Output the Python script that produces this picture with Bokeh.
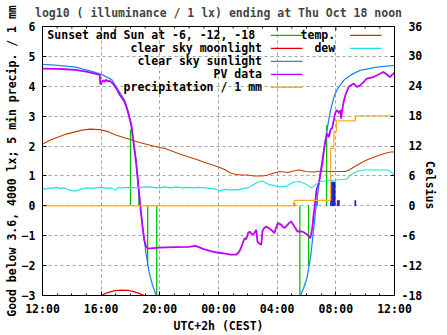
import math
from bokeh.plotting import figure
from bokeh.models import Range1d, LinearAxis, FixedTicker, Label
from bokeh.embed import file_html
from bokeh.resources import INLINE

# ---------------- data (x in hours after Wed 12:00 CEST) ----------------
x_ticks = [0, 4, 8, 12, 16, 20, 24]
x_minor_ticks = list(range(0, 25))
x_tick_labels = ["12:00", "16:00", "20:00", "00:00", "04:00", "08:00", "12:00"]
y_ticks = [-3, -2, -1, 0, 1, 2, 3, 4, 5, 6]
celsius_ticks = [-18, -12, -6, 0, 6, 12, 18, 24, 30, 36]

title_text = "log10 ( illuminance / 1 lx) ending at Thu Oct 18 noon"
x_label = "UTC+2h (CEST)"
y_label = "Good below 3.6, 4000 lx; 5 min precip. / 1 mm"
y2_label = "Celsius"

# PV data: log10(illuminance / lx)
pv_h = [0, 0.88, 1.55, 2.22, 2.9, 3.37, 3.78, 3.91, 3.94, 4.01, 4.11, 4.25, 4.31, 4.45, 4.58,
        4.72, 4.85, 5.04, 5.26, 5.6, 5.82, 6.05, 6.2, 6.38, 6.49, 6.61, 6.72, 6.83, 6.94, 7.06,
        7.17, 7.96, 8.97, 9.98, 10.43, 10.65, 10.99, 11.53, 12.0, 12.47, 12.81, 13.21, 13.35,
        13.45, 13.57, 13.69, 13.8, 13.89, 14.02, 14.13, 14.29, 14.43, 14.58, 14.66, 14.74, 14.92,
        14.99, 15.1, 15.26, 15.44, 15.59, 15.82, 15.91, 16.05, 16.27, 16.38, 16.5, 16.72, 16.94,
        17.06, 17.17, 17.39, 17.53, 17.73, 17.86, 18.07, 18.25, 18.3, 18.41, 18.47, 18.56, 18.63,
        18.69, 18.85, 18.96, 19.08, 19.19, 19.3, 19.42, 19.53, 19.64, 19.75, 19.87, 19.98, 20.09,
        20.2, 20.32, 20.36, 20.43, 20.54, 20.65, 20.88, 21.22, 21.44, 21.66, 21.89, 22.11, 22.57,
        23.01, 23.24, 23.46, 23.69, 23.92, 24.0]
pv_log = [4.59, 4.58, 4.57, 4.55, 4.5, 4.45, 4.4, 4.38, 4.06, 4.1, 4.2, 4.15, 4.22, 4.17, 4.18,
          4.12, 4.06, 3.92, 3.72, 3.48, 3.15, 2.7, 2.15, 1.45, 0.9, 0.3, -0.27, -0.75, -1.15, -1.35,
          -1.43, -1.40, -1.38, -1.37, -1.34, -1.38, -1.45, -1.52, -1.57, -1.6, -1.63, -1.63, -1.57,
          -1.5, -1.36, -1.2, -1.08, -1.12, -0.91, -0.86, -0.97, -0.92, -0.8, -1.2, -1.24, -1.3,
          -0.86, -0.75, -0.69, -0.75, -0.8, -0.91, -0.75, -0.58, -0.63, -0.7, -0.74, -0.63, -0.52,
          -0.6, -0.69, -0.86, -0.85, -0.86, -0.9, -0.97, -1.08, -1.0, -0.69, -0.35, -0.02, 0.3,
          0.55, 0.76, 1.1, 1.42, 1.87, 2.2, 2.42, 2.3, 2.55, 2.6, 2.9, 3.14, 3.2,
          3.1, 3.2, 2.92, 3.2, 3.5, 3.7, 3.98, 4.09, 3.98, 4.03, 4.14, 4.26, 4.31,
          4.42, 4.48, 4.4, 4.31, 4.42, 4.45]

# clear sky sunlight model
sun_h = [0, 0.88, 2.25, 3.37, 4.05, 4.72, 5.04, 5.33, 5.6, 5.82, 6.05, 6.2, 6.38, 6.61, 6.83,
         7.06, 7.28, 7.5, 7.73, 7.96, 8.3, 17.26, 17.62, 17.85, 18.03, 18.19, 18.3, 18.41, 18.53,
         18.63, 18.74, 18.97, 19.19, 19.42, 19.64, 19.87, 20.09, 20.54, 21.1, 21.66, 22.79, 24.0]
sun_log = [4.73, 4.71, 4.64, 4.5, 4.39, 4.22, 3.97, 3.75, 3.53, 3.2, 2.76, 2.2, 1.53, 0.3, -0.7,
           -1.6, -2.25, -2.65, -2.97, -3.3, -4.0, -4.0, -2.97, -2.69, -2.41, -1.97, -1.63, -1.13,
           -0.58, -0.1, 0.3, 1.2, 1.9, 2.6, 3.2, 3.64, 3.9, 4.2, 4.4, 4.53, 4.64, 4.7]

# clear sky moonlight model
moon_h = [3.7, 3.91, 4.13, 4.45, 4.92, 5.39, 5.82, 6.16, 6.49, 6.94, 7.2]
moon_log = [-3.5, -3.1, -2.97, -2.9, -2.84, -2.82, -2.83, -2.86, -2.91, -3.0, -3.3]

# sunset / sun at -6, -12, -18 deg (evening) and -18, -12, -6, sunrise (morning)
sun_event_h = [6.0, 6.57, 7.17, 7.79, 17.55, 18.14, 18.74, 19.37]
sun_event_log = [2.55, 0.42, -2.0, -3.5, -3.5, -2.0, 0.42, 2.7]
sun_event_base = [0, 0, 0, 0, 0, 0, 0, 0]

# accumulated precipitation (mm)
precip_h = [0, 17.17, 19.64, 19.87, 20.04, 21.33, 24.0]
precip_mm = [0, 0.18, 1.92, 2.48, 2.84, 3.01, 3.01]

# 5 minute precipitation (mm)
bar_h = [17.17, 19.67, 19.75, 19.83, 19.92, 20.13, 20.21, 21.33]
bar_mm = [0.1, 0.8, 0.8, 0.8, 0.8, 0.18, 0.18, 0.18]

# temperature and dew point (Celsius)
temp_h = [0, 0.54, 1.08, 1.62, 2.16, 2.70, 3.24, 3.91, 4.45, 4.99, 5.53, 6.07, 6.61, 7.28, 7.82,
          8.36, 8.90, 9.44, 9.98, 10.52, 11.06, 11.60, 12.0, 12.41, 12.81, 13.08, 13.48, 14.02,
          14.43, 14.97, 15.37, 15.78, 16.18, 16.72, 17.12, 17.53, 17.93, 18.47, 19.01, 19.55,
          20.09, 20.63, 20.9, 21.3, 21.71, 22.11, 22.52, 22.92, 23.33, 23.73, 24.0]
temp_c = [12.4, 13.2, 13.8, 14.4, 14.8, 15.2, 15.4, 15.3, 14.9, 14.2, 13.7, 13.2, 12.7, 12.2, 11.8,
          11.5, 10.9, 10.3, 9.8, 9.3, 8.7, 8.2, 7.8, 7.3, 6.6, 6.4, 6.2, 6.2, 6.0, 6.0, 6.2, 6.6,
          6.9, 6.7, 7.0, 7.2, 6.9, 6.8, 7.0, 6.9, 6.9, 6.9, 7.2, 7.9, 8.6, 9.2, 9.7, 10.1, 10.5,
          10.8, 10.8]
dew_h = [0, 0.2, 0.4, 0.67, 0.94, 1.21, 1.48, 1.75, 2.02, 2.29, 2.56, 2.83, 3.1, 3.37, 3.64, 3.91,
         4.18, 4.45, 4.72, 4.99, 5.12, 5.53, 5.93, 6.34, 6.74, 7.15, 7.55, 7.96, 8.36, 8.76, 9.17,
         9.57, 9.98, 10.38, 10.65, 11.06, 11.46, 11.87, 12.13, 12.41, 12.67, 13.01, 13.35, 13.69,
         14.02, 14.36, 14.7, 14.97, 15.24, 15.5, 15.78, 16.18, 16.59, 17.06, 17.53, 17.93, 18.34,
         18.61, 18.88, 19.42, 20.43, 20.76, 21.04, 21.44, 21.91, 23.6, 23.87, 24.0]
dew_c = [3.6, 3.3, 3.6, 3.5, 3.7, 3.5, 3.6, 3.3, 3.0, 3.0, 3.3, 3.5, 3.6, 3.5, 3.6, 3.7, 3.6, 3.5,
         3.6, 3.1, 3.6, 3.6, 3.7, 3.6, 3.7, 3.8, 3.7, 3.6, 3.8, 3.6, 3.8, 3.6, 3.7, 3.6, 3.7, 3.6,
         3.5, 3.3, 3.0, 3.3, 3.2, 3.2, 3.2, 3.5, 3.6, 4.2, 4.8, 5.0, 4.6, 4.2, 4.1, 3.8, 3.9, 4.7,
         4.9, 4.4, 3.6, 4.2, 4.8, 5.1, 5.3, 5.4, 6.3, 6.9, 7.2, 7.2, 6.5, 6.0]

legend_col1 = ["Sunset and Sun at -6, -12, -18\u00a0", "clear sky moonlight",
               "clear sky sunlight", "PV data", "precipitation / 1 mm"]
legend_col2 = ["temp.", "dew"]

# ---------------- style ----------------
FONT = "DejaVu Sans Mono"
FS = "11.5px"
C_GREEN = "#00c000"
C_RED = "#e00000"
C_BLUE = "#1a88ff"
C_PURPLE = "#c000ff"
C_ORANGE = "#ffb020"
C_BROWN = "#c04000"
C_CYAN = "#20e0e0"
C_NAVY = "#2020c0"
GRID = "#a0a0a0"

# frame in pixels: 42..398 x 26..296
FL, FR, FT, FB = 42, 398, 26, 296

p = figure(width=447, height=335, x_range=Range1d(0, 24), y_range=Range1d(-3, 6),
           output_backend="svg", toolbar_location=None,
           min_border_left=FL, min_border_right=447 - FR,
           min_border_top=FT, min_border_bottom=335 - FB)
p.extra_y_ranges = {"celsius": Range1d(-18, 36)}
p.background_fill_color = "white"
p.border_fill_color = "white"
p.outline_line_color = "black"
p.outline_line_width = 1

p.title.text = title_text
p.title.align = "center"
p.title.vertical_align = "top"
p.title.text_font = FONT
p.title.text_font_size = FS
p.title.text_font_style = "bold"
p.title.standoff = 9


def hx(px):
    return (px - FL) / (FR - FL) * 24


def vy(py):
    return 6 - (py - FT) / (FB - FT) * 9


def style_axis(ax, label):
    ax.axis_line_color = "black"
    ax.major_tick_line_color = "black"
    ax.major_tick_out = 0
    ax.major_tick_in = 4
    ax.minor_tick_out = 0
    ax.major_label_text_font = FONT
    ax.major_label_text_font_size = FS
    ax.major_label_text_font_style = "bold"
    ax.major_label_text_color = "black"
    ax.axis_label = label
    ax.axis_label_text_font = FONT
    ax.axis_label_text_font_size = FS
    ax.axis_label_text_font_style = "bold"
    ax.axis_label_text_color = "black"


xa = p.xaxis[0]
style_axis(xa, x_label)
xa.ticker = FixedTicker(ticks=x_ticks, minor_ticks=x_minor_ticks)
xa.minor_tick_in = 2
xa.minor_tick_line_color = "black"
xa.major_label_overrides = {t: s for t, s in zip(x_ticks, x_tick_labels)}
xa.major_label_standoff = 6
xa.axis_label_standoff = 0

ya = p.yaxis[0]
style_axis(ya, y_label)
ya.ticker = FixedTicker(ticks=y_ticks)
ya.minor_tick_line_color = None
ya.major_label_standoff = 7
ya.axis_label_standoff = 0

ra = LinearAxis(y_range_name="celsius", ticker=FixedTicker(ticks=celsius_ticks))
style_axis(ra, y2_label)
ra.minor_tick_line_color = None
ra.major_label_overrides = {t: (str(t) if t < 0 else "\u00a0" + str(t)) for t in celsius_ticks}
ra.major_label_standoff = 7
ra.axis_label_standoff = 5
if "axis_label_orientation" in ra.properties():
    try:
        ra.axis_label_orientation = -math.pi / 2
    except Exception:
        pass
p.add_layout(ra, "right")

p.xgrid.ticker = FixedTicker(ticks=x_ticks)
p.ygrid.ticker = FixedTicker(ticks=y_ticks)
for g in (p.xgrid[0], p.ygrid[0]):
    g.grid_line_color = GRID
    g.grid_line_dash = "3 3"
    g.grid_line_width = 1

# mirrored tick marks on the top border
top_len = [(4 if h in x_ticks else 2) / (FB - FT) * 9 for h in x_minor_ticks]
p.segment(x0=x_minor_ticks, y0=[6] * len(x_minor_ticks), x1=x_minor_ticks,
          y1=[6 - d for d in top_len], line_color="black", line_width=1)

# ---------------- series ----------------
p.vbar(x=bar_h, top=bar_mm, bottom=0, width=1 / 12, fill_color=C_NAVY, line_color=C_NAVY, line_width=0.5)
p.segment(x0=sun_event_h, y0=sun_event_base, x1=sun_event_h, y1=sun_event_log,
          line_color=C_GREEN, line_width=1.3)
p.line(moon_h, moon_log, line_color=C_RED, line_width=1.3)
p.line(sun_h, sun_log, line_color=C_BLUE, line_width=1.3)
p.line(pv_h, pv_log, line_color=C_PURPLE, line_width=1.8)
p.step(precip_h, precip_mm, mode="after", line_color=C_ORANGE, line_width=1.3)
p.line(temp_h, temp_c, y_range_name="celsius", line_color=C_BROWN, line_width=1.1)
p.line(dew_h, dew_c, y_range_name="celsius", line_color=C_CYAN, line_width=1.1)

# ---------------- legend (gnuplot style: text, then sample) ----------------
col1_colors = [C_GREEN, C_RED, C_BLUE, C_PURPLE, C_ORANGE]
col2_colors = [C_BROWN, C_CYAN]
for cols, colors, tx, s0, s1 in ((legend_col1, col1_colors, 264, 273, 305),
                                 (legend_col2, col2_colors, 338, 353, 385)):
    for i, (t, c) in enumerate(zip(cols, colors)):
        yy = vy(35 + 13 * i)
        p.add_layout(Label(x=hx(tx), y=yy, text=t, text_align="right", text_baseline="middle",
                           text_font=FONT, text_font_size=FS, text_font_style="bold",
                           text_color="black"))
        p.segment(x0=[hx(s0)], y0=[yy], x1=[hx(s1)], y1=[yy], line_color=c, line_width=1.3)

open("out.html", "w").write(file_html(p, INLINE))
